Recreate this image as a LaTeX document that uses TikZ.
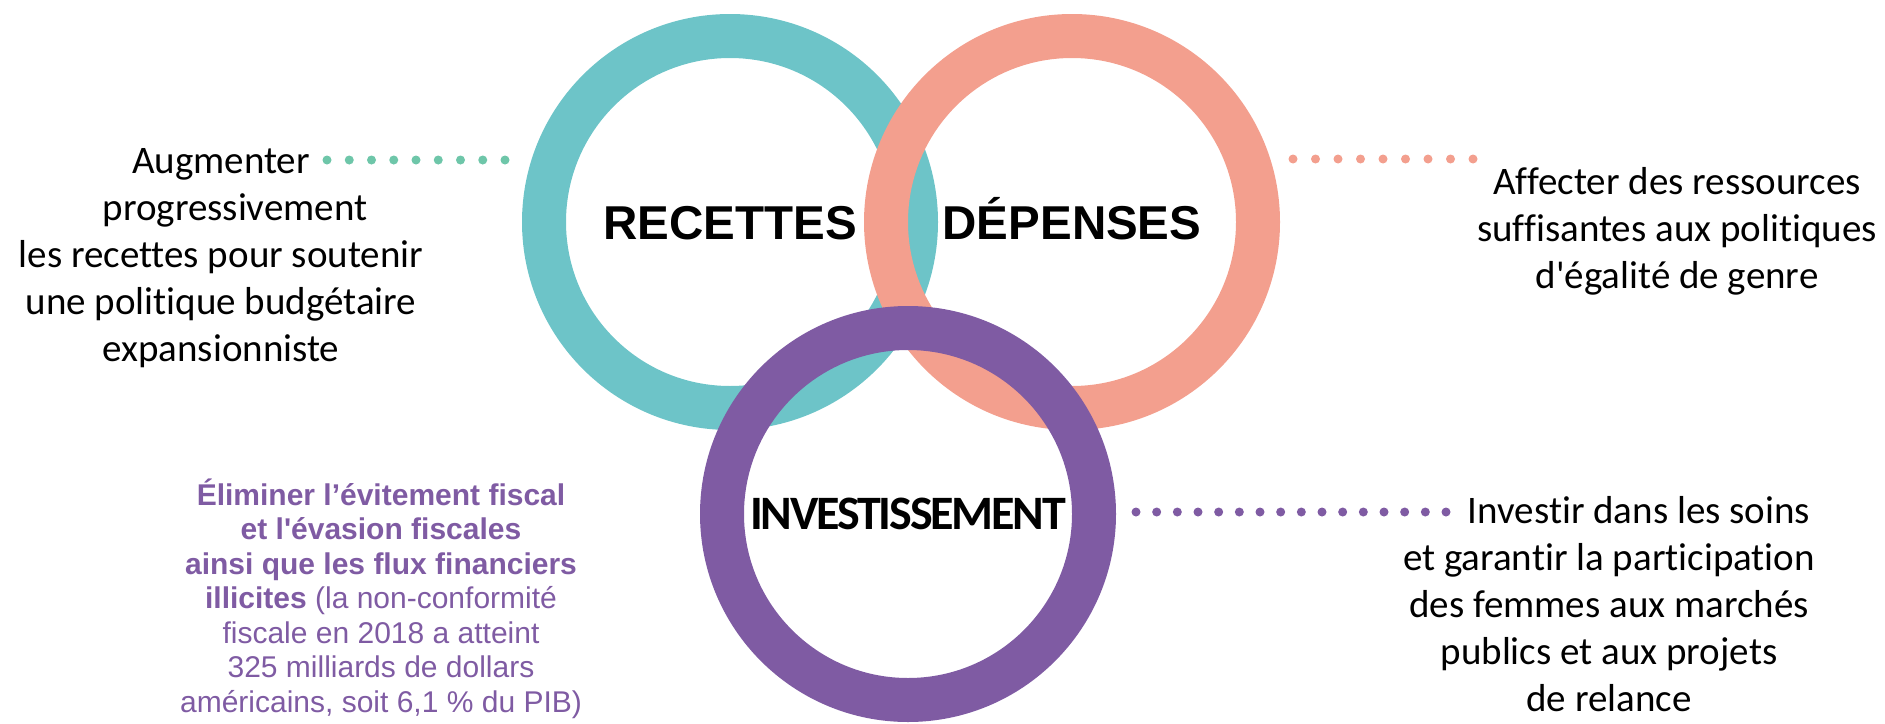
\documentclass[tikz,border=0pt]{standalone}
\usepackage{fontspec}
\setmainfont{Carlito}[Ligatures={TeXOff,NoCommon}]
\newfontfamily\arialfont{Liberation Sans}
\newfontfamily\investfont{Carlito}[LetterSpace=-4.5]
\usepackage{tikz}
\definecolor{recteal}{HTML}{6DC4C8}
\definecolor{dotteal}{HTML}{6EC6A9}
\definecolor{depsalmon}{HTML}{F39F8E}
\definecolor{invpurple}{HTML}{7F5BA3}

\begin{document}
\begin{tikzpicture}[x=0.5pt, y=-0.5pt, node distance={171pt},
  ring/.style = {draw, circle, line width=22pt, minimum size=186pt, inner sep=0pt, text height=17pt, text depth=0pt,
    font=\arialfont\bfseries\fontsize{23.75}{28}\selectfont},
  side/.style = {align=center, anchor=base, inner sep=0pt, font=\fontsize{19.5}{23.5}\selectfont},
  dotrow/.style = {line width=4.5pt, line cap=round, dash pattern=on 0pt off #1}]
\useasboundingbox (0,0) rectangle (1885,723);

% the three rings
\node[ring, draw=recteal] (rec) at (730,222) {RECETTES};
\node[ring, draw=depsalmon] (dep) [right of=rec] {DÉPENSES};
\node[ring, draw=invpurple, text height=15.5pt, font=\investfont\bfseries\fontsize{24}{28}\selectfont] (inv) at (908,514) {INVESTISSEMENT};

% texts (placed at the baseline of their last line)
\node[side] (aug) at (221,361) {Augmenter\\\hspace*{14pt}progressivement\\les recettes pour soutenir\\une politique budgétaire\\expansionniste};
\node[side] (aff) at (1677,288) {Affecter des ressources\\suffisantes aux politiques\\d'égalité de genre};
\node[side] (soins) at (1609,711) {\hspace*{30pt}Investir dans les soins\\et garantir la participation\\des femmes aux marchés\\publics et aux projets\\de relance};
\node[side, text=invpurple, font=\arialfont\fontsize{15}{17.25}\selectfont] (elim) at (381,712) {\textbf{Éliminer l’évitement fiscal}\\\textbf{et l'évasion fiscales}\\\textbf{ainsi que les flux financiers}\\\textbf{illicites} (la non-conformité\\fiscale en 2018 a atteint\\325 milliards de dollars\\américains, soit 6,1~\% du PIB)};

% dotted leaders
\coordinate (a1) at (327,160);
\coordinate (a2) at (506,160);
\coordinate (b1) at (1293,159);
\coordinate (b2) at (1474,159);
\coordinate (c1) at (1136,512);
\coordinate (c2) at (1447,512);
\draw[dotrow=11.125pt, dotteal] (a1) -- (a2);
\draw[dotrow=11.25pt, depsalmon] (b1) -- (b2);
\draw[dotrow=10.333pt, invpurple] (c1) -- (c2);
\end{tikzpicture}
\end{document}
